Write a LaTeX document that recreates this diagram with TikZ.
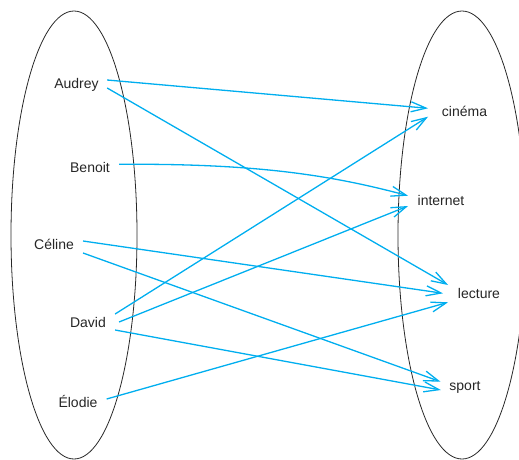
\documentclass[tikz,border=0pt]{standalone}
\usepackage{fontspec}
\setmainfont{Liberation Sans}
\usetikzlibrary{arrows.meta}
\definecolor{linkblue}{RGB}{0,174,239}
\definecolor{setline}{RGB}{40,40,40}
\begin{document}
\begin{tikzpicture}[x=1pt,y=-1pt,
  setoval/.style={draw=setline,line width=0.8pt},
  elem/.style={inner sep=0pt,anchor=base,font=\fontsize{14}{16}\selectfont,text=black!85},
  link/.style={draw=linkblue,line width=1.3pt,
    -{Straight Barb[length=15pt,width=10pt,line width=1.3pt]}}]
\useasboundingbox (0,0) rectangle (519,459);
% the two sets
\draw[setoval] (74,235) ellipse [x radius=63,y radius=224];
\draw[setoval] (462,235) ellipse [x radius=64,y radius=224];
% elements of the first set
\node[elem] (a) at (76.5,88) {Audrey};
\node[elem] (b) at (90,172.7) {Benoit};
\node[elem] (c) at (54,249) {Céline};
\node[elem] (d) at (88,327) {David};
\node[elem] (e) at (78,407) {Élodie};
% elements of the second set
\node[elem] (cin) at (464.5,116.7) {cinéma};
\node[elem] (int) at (441,205) {internet};
\node[elem] (lec) at (479,298.3) {lecture};
\node[elem] (spo) at (465,390) {sport};
% relation arrows
\draw[link] ([shift={(8.3,-8)}]a.base east) -- ([shift={(-13.7,-8.4)}]cin.base west);
\draw[link] ([shift={(8.3,0)}]a.base east) -- ([shift={(-9.7,-13.3)}]lec.base west);
\draw[link] ([shift={(9,-8.4)}]b.base east) .. controls +(140,-1) and +(-75,-20) .. ([shift={(-9.4,-9.3)}]int.base west);
\draw[link] ([shift={(9,-8)}]c.base east) -- ([shift={(-14.7,-5)}]lec.base west);
\draw[link] ([shift={(9,4)}]c.base east) -- ([shift={(-8.7,-8.3)}]spo.base west);
\draw[link] ([shift={(9,-13)}]d.base east) -- ([shift={(-13.7,0)}]cin.base west);
\draw[link] ([shift={(13,-5)}]d.base east) -- ([shift={(-9.4,1)}]int.base west);
\draw[link] ([shift={(9,3)}]d.base east) -- ([shift={(-8.4,0)}]spo.base west);
\draw[link] ([shift={(9,-8)}]e.base east) -- ([shift={(-9.7,4)}]lec.base west);
\end{tikzpicture}
\end{document}
